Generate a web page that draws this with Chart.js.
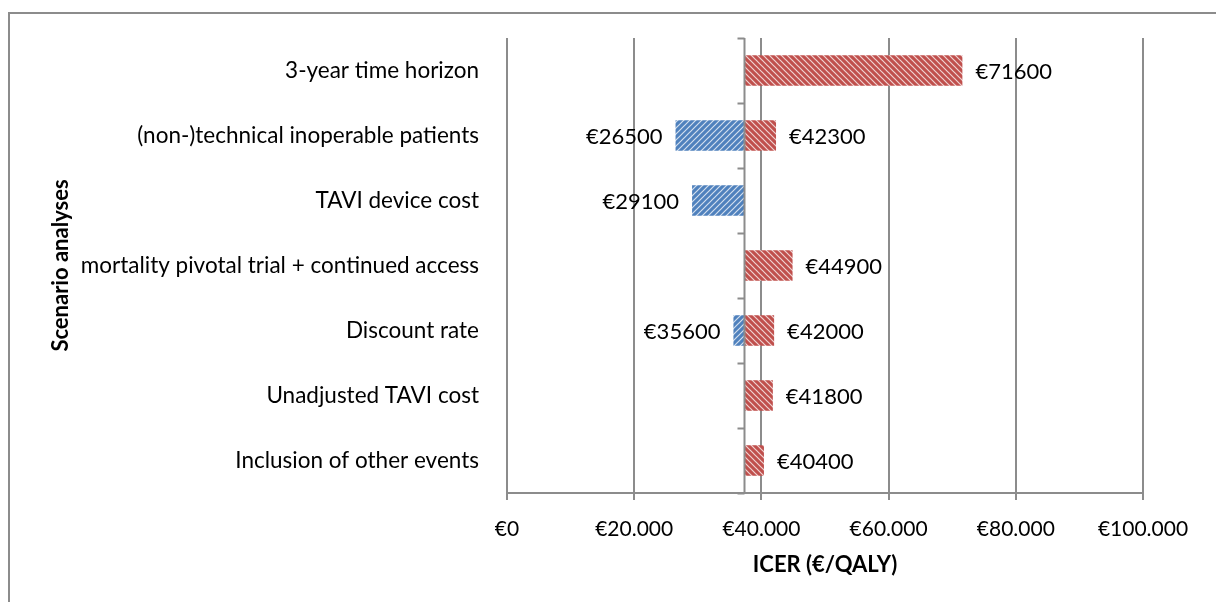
<!DOCTYPE html>
<html>
<head>
<meta charset="utf-8">
<script src="https://cdn.jsdelivr.net/npm/chart.js@4.4.1/dist/chart.umd.min.js"></script>
<style>
  html, body { margin: 0; padding: 0; background: #fff; overflow: hidden; }
  #wrap { position: relative; width: 1216px; height: 602px; }
  #frame { position: absolute; left: 8px; top: 12px; width: 1300px; height: 700px; border: 2px solid #8c8c8c; box-sizing: border-box; }
  canvas { position: absolute; left: 0; top: 0; }
</style>
</head>
<body>
<div id="wrap">
  <div id="frame"></div>
  <canvas id="tornado" width="1216" height="602"></canvas>
</div>
<script>
// scenario analyses, top to bottom
const scenarios = [
  '3-year time horizon',
  '(non-)technical inoperable patients',
  'TAVI device cost',
  'mortality pivotal trial + continued access',
  'Discount rate',
  'Unadjusted TAVI cost',
  'Inclusion of other events'
];
const baseIcer = 37300;
const highIcer = [71600, 42300, null, 44900, 42000, 41800, 40400];
const lowIcer = [null, 26500, 29100, null, 35600, null, null];
const xTicks = [0, 20000, 40000, 60000, 80000, 100000];

const FONT = 'Lato, "Open Sans", sans-serif';
const GRID = '#8c8c8c';

function hatch(color, dir) {
  const c = document.createElement('canvas');
  c.width = 6; c.height = 6;
  const g = c.getContext('2d');
  g.fillStyle = color;
  g.fillRect(0, 0, 6, 6);
  g.strokeStyle = 'rgba(255,255,255,0.75)';
  g.lineWidth = 1.2;
  g.beginPath();
  if (dir > 0) {
    g.moveTo(0, 6); g.lineTo(6, 0);
    g.moveTo(-3, 3); g.lineTo(3, -3);
    g.moveTo(3, 9); g.lineTo(9, 3);
  } else {
    g.moveTo(0, 0); g.lineTo(6, 6);
    g.moveTo(-3, 3); g.lineTo(3, 9);
    g.moveTo(3, -3); g.lineTo(9, 3);
  }
  g.stroke();
  return document.getElementById('tornado').getContext('2d').createPattern(c, 'repeat');
}

const eur = v => '€' + v.toLocaleString('de-DE');

// base line with tick marks + value labels
const tornadoExtras = {
  id: 'tornadoExtras',
  afterDatasetsDraw(chart) {
    const { ctx, chartArea, scales } = chart;
    const x = scales.x, y = scales.y;
    const bx = Math.round(x.getPixelForValue(baseIcer)) + 0.5;
    ctx.save();
    ctx.strokeStyle = GRID;
    ctx.lineWidth = 2;
    ctx.beginPath();
    ctx.moveTo(bx, chartArea.top);
    ctx.lineTo(bx, chartArea.bottom + 1);
    const step = (chartArea.bottom - chartArea.top) / scenarios.length;
    for (let i = 0; i <= scenarios.length; i++) {
      const ty = Math.round(chartArea.top + i * step) + 0.5;
      ctx.moveTo(bx - 7, ty);
      ctx.lineTo(bx, ty);
    }
    ctx.stroke();

    ctx.fillStyle = '#000';
    ctx.font = '22px ' + FONT;
    ctx.textBaseline = 'middle';
    scenarios.forEach((s, i) => {
      const cy = y.getPixelForValue(i);
      if (highIcer[i] != null) {
        ctx.textAlign = 'left';
        ctx.fillText('€' + highIcer[i], x.getPixelForValue(highIcer[i]) + 13, cy + 1);
      }
      if (lowIcer[i] != null) {
        ctx.textAlign = 'right';
        ctx.fillText('€' + lowIcer[i], x.getPixelForValue(lowIcer[i]) - 13, cy + 1);
      }
    });
    ctx.restore();
  }
};

new Chart(document.getElementById('tornado'), {
  type: 'bar',
  data: {
    labels: scenarios,
    datasets: [
      {
        label: 'high',
        data: highIcer.map(v => v == null ? null : [baseIcer, v]),
        backgroundColor: hatch('#c0504d', -1),
        grouped: false,
        borderSkipped: false,
        barPercentage: 0.47,
        categoryPercentage: 1
      },
      {
        label: 'low',
        data: lowIcer.map(v => v == null ? null : [v, baseIcer]),
        backgroundColor: hatch('#4f81bd', 1),
        grouped: false,
        borderSkipped: false,
        barPercentage: 0.47,
        categoryPercentage: 1
      }
    ]
  },
  options: {
    indexAxis: 'y',
    responsive: false,
    animation: false,
    layout: { padding: { left: 48, top: 38, right: 73, bottom: 0 } },
    plugins: { legend: { display: false }, tooltip: { enabled: false } },
    scales: {
      x: {
        min: 0,
        max: 100000,
        afterFit: s => { s.height = 109; s.paddingTop = 0; s.paddingBottom = 0; },
        afterBuildTicks: s => { s.ticks = xTicks.map(v => ({ value: v })); },
        grid: { color: GRID, lineWidth: 2, tickLength: 7, drawTicks: true },
        border: { color: GRID, width: 2 },
        ticks: { color: '#000', font: { family: FONT, size: 21 }, padding: 17, callback: v => eur(v), maxRotation: 0 },
        title: { display: true, text: 'ICER (€/QALY)', color: '#000', font: { family: FONT, size: 22, weight: 'bold' }, padding: { top: 0, bottom: 24 } }
      },
      y: {
        afterFit: s => { s.width = 459; s.paddingTop = 0; s.paddingBottom = 0; },
        grid: { display: false, drawTicks: false },
        border: { display: false },
        ticks: { color: '#000', font: { family: FONT, size: 22.5 }, padding: 28 },
        title: { display: true, text: 'Scenario analyses', color: '#000', font: { family: FONT, size: 22, weight: 'bold' }, padding: 0 }
      }
    }
  },
  plugins: [tornadoExtras]
});
</script>
</body>
</html>
